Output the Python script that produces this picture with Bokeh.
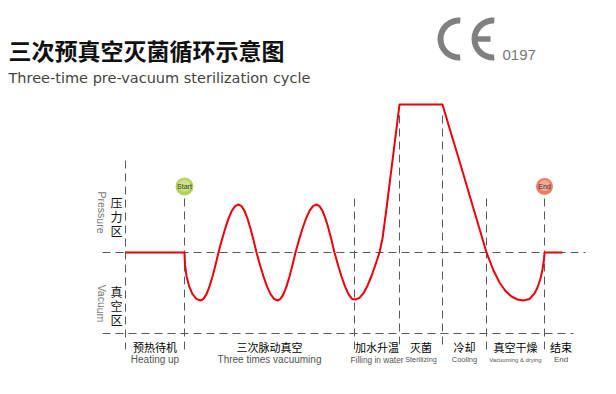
from bokeh.plotting import figure
from bokeh.models import Range1d
from bokeh.embed import file_html
from bokeh.resources import INLINE
from bokeh.core.properties import value

# ---------------- data (time axis = arbitrary units, pressure relative to atmosphere) -------------
curve_t = [125, 184, 184.5, 186.1, 188.7, 192, 195.9, 200,
           203, 206, 209, 212, 215, 218,
           221.3, 224.7, 228, 231.3, 234.7, 238,
           241, 244, 247, 250, 253, 256,
           259.5, 263, 266.5, 270, 273.5, 277,
           280, 283, 286, 289, 292, 295,
           298.5, 302, 305.5, 309, 312.5, 316,
           319, 322, 325, 328, 331, 334,
           337.5, 341, 344.5, 348, 351.5, 355,
           359, 363, 367, 371, 375, 379,
           382, 386, 399,
           442, 450, 460, 470, 478, 486,
           493, 499, 505, 511, 517, 523, 529, 534, 537, 540, 542, 543.5, 544, 562]
curve_p = [0, 0, -12.4, -24, -33.9, -41.6, -46.4, -48,
           -46.4, -41.6, -33.9, -24, -12.4, 0,
           12.4, 24, 33.9, 41.6, 46.4, 48,
           46.4, 41.6, 33.9, 24, 12.4, 0,
           -12.4, -24, -33.9, -41.6, -46.4, -48,
           -46.4, -41.6, -33.9, -24, -12.4, 0,
           12.4, 24, 33.9, 41.6, 46.4, 48,
           46.4, 41.6, 33.9, 24, 12.4, 0,
           -12.4, -24, -33.9, -41.6, -46.4, -47,
           -45.4, -40.7, -33.2, -23.5, -12.2, 0,
           14, 44, 148,
           148, 121, 88, 54, 27, 0,
           -18, -30, -38.5, -44, -47, -48, -46.5, -41, -35, -26, -17, -7, 0, 0]

phase_cn = ["预热待机", "三次脉动真空", "加水升温", "灭菌", "冷却", "真空干燥", "结束"]
phase_en = ["Heating up", "Three times vacuuming", "Filling in water", "Sterilizing",
            "Cooling", "Vacuuming & drying", "End"]
phase_start = [125, 184, 354, 399, 442, 486, 544]
phase_end = [184, 354, 399, 442, 486, 544, 577]
divider_x = [125, 184, 354, 399, 442, 486, 544]
divider_top = [92, 54, 54, 137, 137, 54, 54]

zone_cn = ["压\n力\n区", "真\n空\n区"]
zone_en = ["Pressure", "Vacuum"]
zone_y = [36, -53]

marker_text = ["Start", "End"]
marker_t = [184, 544]

title_cn = "三次预真空灭菌循环示意图"
title_en = "Three-time pre-vacuum sterilization cycle"
ce_number = "0197"

# ---------------- figure ----------------
p = figure(width=616, height=394, x_range=Range1d(0, 616), y_range=Range1d(-142, 252),
           x_axis_type=None, y_axis_type=None, toolbar_location=None,
           output_backend="svg", min_border=0)
p.grid.visible = False
p.outline_line_color = None
p.background_fill_color = "white"
p.border_fill_color = "white"

dash_col = "#5a5a5a"
# reference lines
p.segment(x0=[102, 102], y0=[0, -81], x1=[585, 573], y1=[0, -81],
          line_color=dash_col, line_width=1, line_dash="8 5")
p.segment(x0=divider_x, y0=divider_top, x1=divider_x, y1=[-97] * len(divider_x),
          line_color=dash_col, line_width=1, line_dash="8 5")

# curve
p.line(curve_t, curve_p, line_color="#e8000b", line_width=2, line_join="round")

# start / end markers
p.scatter(x=[marker_t[0]], y=[66], size=18, fill_color="#b3d25a", line_color=None)
p.scatter(x=[marker_t[0]], y=[67], size=12, fill_color="#d2e793", line_color=None, fill_alpha=0.8)
p.scatter(x=[marker_t[1]], y=[66], size=17, fill_color="#ec7c68", line_color=None)
p.scatter(x=[marker_t[1]], y=[67], size=11, fill_color="#f5b1a3", line_color=None, fill_alpha=0.8)
p.text(x=marker_t, y=[66, 66], text=marker_text, text_font=value("Liberation Sans"),
       text_font_size="7px", text_color="#333333", text_align="center", text_baseline="middle")

# phase labels
mid = [(a + b) / 2 for a, b in zip(phase_start, phase_end)]
p.text(x=mid, y=[-94] * len(mid), text=phase_cn, text_font=value("Noto Sans CJK SC"),
       text_font_size="11px", text_color="#000000",
       text_align="center", text_baseline="middle")
en_sizes = ["10px", "10px", "8.3px", "7.3px", "7.5px", "5.9px", "8px"]
for i in range(7):
    p.text(x=[mid[i]], y=[-107], text=[phase_en[i]],
           text_font=value("Liberation Sans"),
           text_font_size=en_sizes[i], text_color="#555555",
           text_align="center", text_baseline="middle")

# zone labels
p.text(x=[116, 116], y=zone_y, text=zone_cn, text_font=value("Noto Sans CJK SC"),
       text_font_size="12px", text_color="#111111", text_align="center",
       text_baseline="middle", text_line_height=0.8)
p.text(x=[101, 101], y=[40, -51], text=zone_en, text_font=value("Liberation Sans"),
       text_font_size="10.5px", text_color="#777777", text_align="center",
       text_baseline="middle", angle=-1.5708)

# titles
p.text(x=[8], y=[203], text=[title_cn], text_font=value("Noto Sans CJK SC"),
       text_font_size="23px", text_font_style="bold", text_color="#111111",
       text_align="left", text_baseline="middle")
p.text(x=[8], y=[175], text=[title_en], text_font=value("DejaVu Sans"),
       text_font_size="14.5px", text_color="#444444", text_align="left", text_baseline="middle")

# CE mark
ce_col = "#808080"
p.annular_wedge(x=[458.5, 492.5], y=[213.5, 213.5], inner_radius=15.5, outer_radius=21.5,
                start_angle=1.50, end_angle=4.78, fill_color=ce_col, line_color=None)
p.segment(x0=[476], y0=[213.5], x1=[490], y1=[213.5], line_color=ce_col, line_width=5.5)
p.text(x=[502], y=[197.5], text=[ce_number], text_font=value("Liberation Sans"),
       text_font_size="15px", text_color="#777777", text_align="left", text_baseline="middle")

open("out.html", "w").write(file_html(p, INLINE))
